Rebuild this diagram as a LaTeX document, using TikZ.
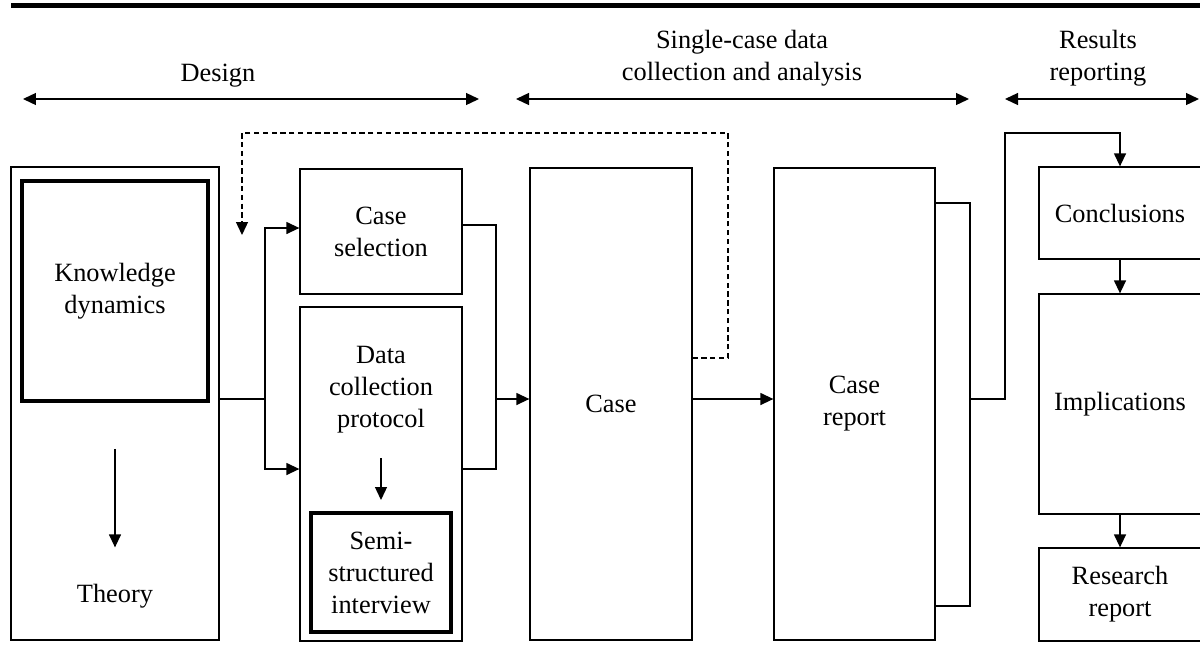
\documentclass[tikz,border=0pt]{standalone}
\usepackage{fontspec}
\setmainfont{Liberation Serif}
\usetikzlibrary{arrows.meta}

\begin{document}
\begin{tikzpicture}[x=0.02cm, y=-0.02cm,
    font=\fontsize{15}{18.2}\selectfont,
    >={Triangle[length=0.26cm,width=0.24cm]},
    line width=0.75pt,
    box/.style={draw, inner sep=0pt, align=center, minimum width=3.24cm},
    thickbox/.style={box, line width=2.3pt},
    txt/.style={inner sep=0pt, align=center},
    fb/.style={->, dash pattern=on 3pt off 2pt}]
    \useasboundingbox (0,0) rectangle (1200,660);
    \draw[line width=2.6pt] (11,5.5) -- (1200,5.5); % top rule

    % phases
    \node[txt, anchor=base] (lbdesign) at (218,81) {Design};
    \node[txt, anchor=south] (lbsingle) at (742,87) {Single-case data\\collection and analysis};
    \node[txt, anchor=south] (lbresults) at (1098,87) {Results\\reporting};
    \coordinate (d1) at (23,99);   \coordinate (d2) at (479,99);
    \coordinate (s1) at (516,99);  \coordinate (s2) at (969,99);
    \coordinate (r1) at (1005,99); \coordinate (r2) at (1199,99);
    \foreach \a/\b in {d1/d2,s1/s2,r1/r2}
        \draw[<->] (\a) -- (\b);

    % design
    \node[box, minimum width=4.16cm, minimum height=9.46cm] (frame) at (115,403.5) {};
    \node[thickbox, minimum width=3.72cm, minimum height=4.4cm] (knowledge) at (115,291) {Knowledge\\dynamics};
    \node[txt] (theory) at (115,596) {Theory};
    \draw[->, shorten <=0.92cm, shorten >=0.72cm] (knowledge) -- (theory);
    \node[box, minimum height=2.5cm] (selection) at (381,231.5) {Case\\selection};
    \node[box, minimum height=6.68cm] (protocol) at (381,474) {};
    \node[txt] (protext) at (381,390) {Data\\collection\\protocol};
    \node[thickbox, minimum width=2.8cm, minimum height=2.38cm] (interview) at (381,572.5) {Semi-\\structured\\interview};
    \draw[->, shorten <=0.48cm, shorten >=0.22cm] (protext) -- (interview);

    % single case
    \node[box, minimum height=9.44cm] (case) at (611,404) {Case};
    \node[box, minimum width=3.22cm, minimum height=9.44cm] (report) at (854.5,404) {Case\\report};

    % results
    \node[box, minimum height=1.84cm] (conclusions) at (1120,213) {Conclusions};
    \node[box, minimum height=4.4cm] (implications) at (1120,404) {Implications};
    \node[box, minimum height=1.86cm] (research) at (1120,594.5) {Research\\report};
    \foreach \u/\v in {conclusions/implications,implications/research}
        \draw[->] (\u) -- (\v);

    % connectors
    \coordinate (split) at (265,399);
    \coordinate (merge) at (496,399);
    \draw (frame.east |- split) -- (split);
    \draw[->] (split) |- ([yshift=0.07cm]selection.west);
    \draw[->] (split) |- ([yshift=0.1cm]protocol.west);
    \draw (selection.east) ++(0,-6.5) -| (merge) |- ([yshift=0.1cm]protocol.east);
    \draw[->] (merge) -- (case.west |- merge);
    \draw[->] (case.east |- merge) -- (report.west |- merge);
    \coordinate (rtop) at (970,203);
    \coordinate (rbot) at (970,606);
    \coordinate (rjoin) at (970,399);
    \coordinate (rup) at (1005,133);
    \draw (report.east |- rtop) -- (rtop) -- (rbot) -- (report.east |- rbot); % report bracket
    \draw[->] (rjoin) -| (rup) -| (conclusions.north);

    % feedback
    \coordinate (fbout) at (728,358);
    \coordinate (fbtop) at (728,133);
    \coordinate (fbin) at (242,235);
    \draw[fb] (case.east |- fbout) -- (fbout) -- (fbtop) -| (fbin);
\end{tikzpicture}
\end{document}
